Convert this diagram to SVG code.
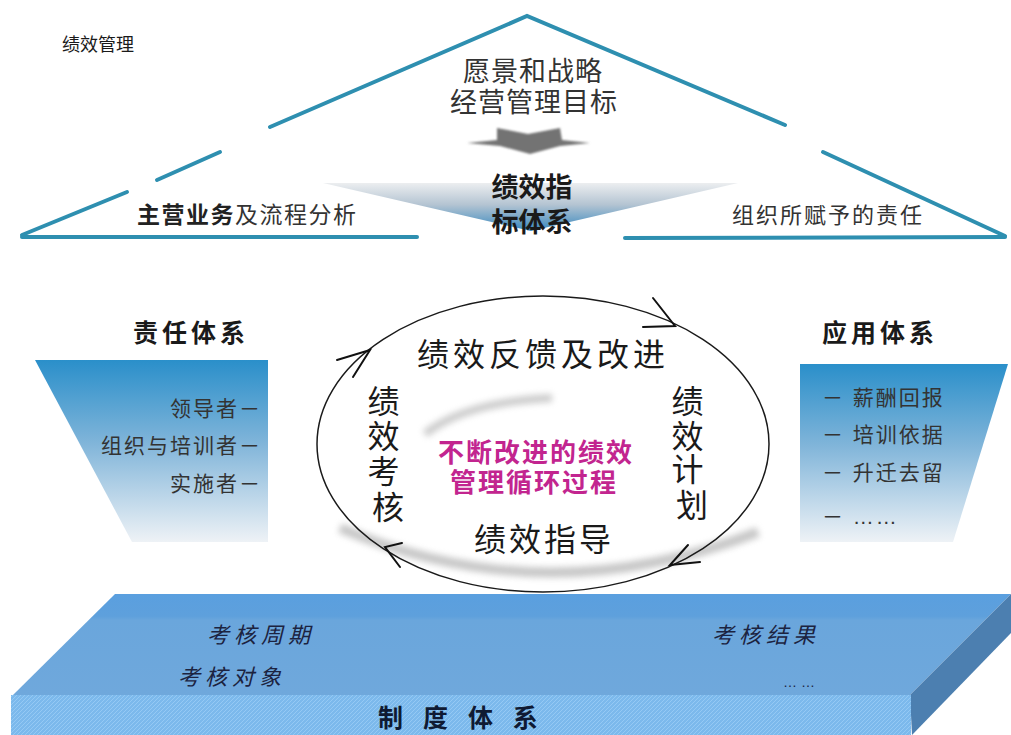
<svg xmlns="http://www.w3.org/2000/svg" width="1011" height="735" viewBox="0 0 1011 735">
<style>
  text { font-family: "Liberation Sans", "Noto Sans CJK SC", sans-serif; dominant-baseline: central; }
  .tri { stroke: #2e8fb0; stroke-width: 4; stroke-linecap: round; fill: none; }
  .dark { fill: #333; }
  .blk { fill: #1a1a1a; }
  .b { font-weight: bold; }
  .slab { font-style: italic; fill: #1c2340; font-size: 22px; letter-spacing: 5px; }
  .arr { stroke: #111; stroke-width: 2; fill: none; stroke-linecap: round; }
</style>
<defs>
  <linearGradient id="gTop" x1="0" y1="0" x2="0" y2="1">
    <stop offset="0" stop-color="#eceef0"/>
    <stop offset="0.45" stop-color="#b4c4d2"/>
    <stop offset="1" stop-color="#3888be"/>
  </linearGradient>
  <linearGradient id="gFun" x1="0" y1="0" x2="0" y2="1">
    <stop offset="0" stop-color="#2a8fca"/>
    <stop offset="0.45" stop-color="#7fb4d9"/>
    <stop offset="1" stop-color="#eef2f6"/>
  </linearGradient>
  <linearGradient id="gSlab" x1="0" y1="0" x2="0" y2="1">
    <stop offset="0" stop-color="#5a9fdf"/>
    <stop offset="0.22" stop-color="#5ea0dc"/>
    <stop offset="0.26" stop-color="#6aa6dc"/>
    <stop offset="1" stop-color="#6fa8dc"/>
  </linearGradient>
  <pattern id="hatch" width="4" height="4" patternUnits="userSpaceOnUse">
    <rect width="4" height="4" fill="#7cb9ec"/>
    <path d="M0,4 L4,0" stroke="#95c9f4" stroke-width="1"/>
  </pattern>
  <filter id="blur" x="-20%" y="-50%" width="140%" height="200%">
    <feGaussianBlur stdDeviation="3"/>
  </filter>
  <filter id="soft" x="-10%" y="-30%" width="120%" height="160%">
    <feGaussianBlur stdDeviation="0.8"/>
  </filter>
</defs>

<rect width="1011" height="735" fill="#ffffff"/>

<!-- title -->
<g id="title">
  <text x="62" y="45" class="blk" font-size="18">绩效管理</text>
</g>

<!-- top triangle -->
<g id="triangle">
  <path class="tri" d="M270,127 L527,16 L785,125"/>
  <path class="tri" d="M157,180 L220,152"/>
  <path class="tri" d="M22,235 L127,192"/>
  <path class="tri" d="M22,237 L417,237"/>
  <path class="tri" d="M625,238 L1005,237"/>
  <path class="tri" d="M823,152 L1005,236"/>
</g>

<g id="vision">
  <text x="533" y="72" class="dark" font-size="27" letter-spacing="1" text-anchor="middle">愿景和战略</text>
  <text x="534" y="103" class="dark" font-size="27" letter-spacing="1" text-anchor="middle">经营管理目标</text>
</g>

<g id="down-arrow">
  <path d="M497,128 L528,134 L560,128 L562,140 L590,143 L560,146 L530,154 L500,146 L467,143 L497,140 Z" fill="#737373" filter="url(#soft)"/>
</g>

<g id="kpi-system">
  <polygon points="323,183 738,183 531,231" fill="url(#gTop)"/>
  <text x="532" y="188" class="blk b" font-size="27" text-anchor="middle">绩效指</text>
  <text x="532" y="223" class="blk b" font-size="27" text-anchor="middle">标体系</text>
</g>

<g id="business">
  <text x="137" y="215" class="dark" font-size="23" letter-spacing="1.5"><tspan class="b" fill="#222">主营业务</tspan>及流程分析</text>
</g>

<g id="org-resp">
  <text x="732" y="215" class="dark" font-size="22" letter-spacing="2">组织所赋予的责任</text>
</g>

<!-- responsibility system -->
<g id="responsibility">
  <text x="133" y="333" class="blk b" font-size="25" letter-spacing="4">责任体系</text>
  <polygon points="35,360 268,360 268,542 132,542" fill="url(#gFun)"/>
  <g class="dark" font-size="21" letter-spacing="2" text-anchor="end">
    <text x="262" y="408">领导者－</text>
    <text x="262" y="445">组织与培训者－</text>
    <text x="262" y="483">实施者－</text>
  </g>
</g>

<!-- application system -->
<g id="application">
  <text x="822" y="333" class="blk b" font-size="25" letter-spacing="4">应用体系</text>
  <polygon points="800,364 1008,364 953,542 800,542" fill="url(#gFun)"/>
  <g class="dark" font-size="21" letter-spacing="2">
    <text x="822" y="397">－ 薪酬回报</text>
    <text x="822" y="434">－ 培训依据</text>
    <text x="822" y="472">－ 升迁去留</text>
    <text x="822" y="516">－ ……</text>
  </g>
</g>

<!-- cycle -->
<g id="cycle-shadow">
  <path d="M340,528 Q545,615 758,532" stroke="#9a9a9a" stroke-width="10" fill="none" opacity="0.55" filter="url(#blur)"/>
  <path d="M425,434 Q465,402 552,398" stroke="#9a9a9a" stroke-width="8" fill="none" opacity="0.5" filter="url(#blur)"/>
</g>

<g id="connectors">
  <ellipse cx="543" cy="444" rx="226" ry="148" fill="none" stroke="#1a1a1a" stroke-width="1.5"/>
  <path class="arr" d="M653,298 L675,326 L643,327"/>
  <path class="arr" d="M337,360 L370,350 L353,377"/>
  <path class="arr" d="M402,543 L385,547 L400,567"/>
  <path class="arr" d="M700,562 L670,565 L688,545"/>
</g>

<g id="feedback">
  <text x="543" y="355" class="blk" font-size="32" letter-spacing="4" text-anchor="middle">绩效反馈及改进</text>
</g>
<g id="appraisal">
  <text class="blk" font-size="32" text-anchor="middle">
    <tspan x="388" y="402">绩</tspan>
    <tspan x="388" y="437">效</tspan>
    <tspan x="388" y="472">考</tspan>
    <tspan x="388" y="508">核</tspan>
  </text>
</g>
<g id="plan">
  <text class="blk" font-size="32" text-anchor="middle">
    <tspan x="692" y="402">绩</tspan>
    <tspan x="692" y="437">效</tspan>
    <tspan x="692" y="470">计</tspan>
    <tspan x="692" y="506">划</tspan>
  </text>
</g>
<g id="center">
  <text x="536" y="453" class="b" fill="#c2258f" font-size="26" letter-spacing="2" text-anchor="middle">不断改进的绩效</text>
  <text x="534" y="483" class="b" fill="#c2258f" font-size="26" letter-spacing="2" text-anchor="middle">管理循环过程</text>
</g>
<g id="guidance">
  <text x="544" y="540" class="blk" font-size="32" letter-spacing="3" text-anchor="middle">绩效指导</text>
</g>

<!-- institutional slab -->
<g id="institution">
  <polygon points="115,594 1011,594 910,695 13,695" fill="url(#gSlab)"/>
  <polygon points="910,695 1011,594 1011,633 912,735" fill="#4c7fb0"/>
  <rect x="11" y="695" width="900" height="40" fill="url(#hatch)"/>
  <text x="207" y="635" class="slab">考核周期</text>
  <text x="178" y="677" class="slab">考核对象</text>
  <text x="712" y="635" class="slab">考核结果</text>
  <text x="783" y="682" fill="#1c2340" font-size="14">… …</text>
  <text x="378" y="718" class="b" fill="#0f1a33" font-size="25" letter-spacing="6.5">制 度 体 系</text>
</g>
</svg>
